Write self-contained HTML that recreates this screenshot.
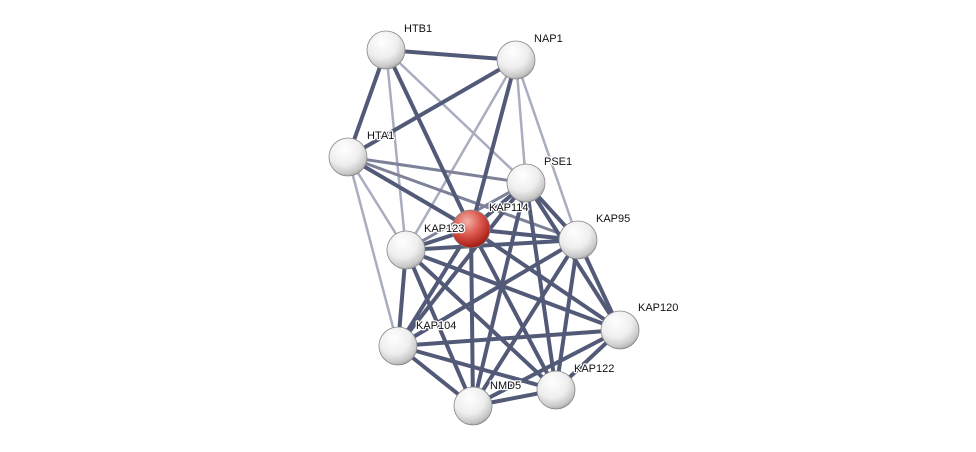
<!DOCTYPE html>
<html><head><meta charset="utf-8"><style>
html,body{margin:0;padding:0;background:#fff;width:976px;height:452px;overflow:hidden}
svg text{font-family:"Liberation Sans",sans-serif;font-size:11px;fill:#111;stroke:#fff;stroke-width:2.5px;paint-order:stroke;stroke-linejoin:round}
</style></head><body>
<svg width="976" height="452" viewBox="0 0 976 452">
<defs>
<radialGradient id="w" cx="0.4" cy="0.3" r="0.75">
<stop offset="0" stop-color="#ffffff"/><stop offset="0.55" stop-color="#eeeeee"/><stop offset="0.85" stop-color="#c8c8c8"/><stop offset="1" stop-color="#9a9a9a"/></radialGradient>
<radialGradient id="r" cx="0.4" cy="0.3" r="0.75">
<stop offset="0" stop-color="#f4b0a8"/><stop offset="0.5" stop-color="#d9544a"/><stop offset="0.85" stop-color="#b0271e"/><stop offset="1" stop-color="#7a1510"/></radialGradient>
</defs>
<g stroke-linecap="round">
<g stroke="#a9adc0" stroke-width="2.5">
<line x1="386" y1="50" x2="406" y2="250"/>
<line x1="386" y1="50" x2="526" y2="183"/>
<line x1="516" y1="60" x2="526" y2="183"/>
<line x1="516" y1="60" x2="578" y2="240"/>
<line x1="516" y1="60" x2="406" y2="250"/>
<line x1="348" y1="157" x2="406" y2="250"/>
<line x1="348" y1="157" x2="398" y2="346"/>
</g>
<g stroke="#7d8299" stroke-width="3">
<line x1="348" y1="157" x2="526" y2="183"/>
<line x1="348" y1="157" x2="578" y2="240"/>
<line x1="526" y1="183" x2="406" y2="250"/>
</g>
<g stroke="#525a78" stroke-width="4">
<line x1="386" y1="50" x2="516" y2="60"/>
<line x1="386" y1="50" x2="348" y2="157"/>
<line x1="386" y1="50" x2="471" y2="229"/>
<line x1="516" y1="60" x2="348" y2="157"/>
<line x1="516" y1="60" x2="471" y2="229"/>
<line x1="348" y1="157" x2="471" y2="229"/>
<line x1="526" y1="183" x2="471" y2="229"/>
<line x1="526" y1="183" x2="578" y2="240"/>
<line x1="526" y1="183" x2="620" y2="330"/>
<line x1="526" y1="183" x2="398" y2="346"/>
<line x1="526" y1="183" x2="473" y2="406"/>
<line x1="526" y1="183" x2="556" y2="390"/>
<line x1="471" y1="229" x2="406" y2="250"/>
<line x1="471" y1="229" x2="578" y2="240"/>
<line x1="471" y1="229" x2="398" y2="346"/>
<line x1="471" y1="229" x2="473" y2="406"/>
<line x1="471" y1="229" x2="556" y2="390"/>
<line x1="471" y1="229" x2="620" y2="330"/>
<line x1="406" y1="250" x2="578" y2="240"/>
<line x1="406" y1="250" x2="398" y2="346"/>
<line x1="406" y1="250" x2="473" y2="406"/>
<line x1="406" y1="250" x2="556" y2="390"/>
<line x1="406" y1="250" x2="620" y2="330"/>
<line x1="578" y1="240" x2="620" y2="330"/>
<line x1="578" y1="240" x2="556" y2="390"/>
<line x1="578" y1="240" x2="473" y2="406"/>
<line x1="578" y1="240" x2="398" y2="346"/>
<line x1="620" y1="330" x2="398" y2="346"/>
<line x1="620" y1="330" x2="473" y2="406"/>
<line x1="620" y1="330" x2="556" y2="390"/>
<line x1="398" y1="346" x2="473" y2="406"/>
<line x1="398" y1="346" x2="556" y2="390"/>
<line x1="473" y1="406" x2="556" y2="390"/>
</g>
</g>
<g stroke="#888" stroke-width="0.8">
<circle cx="386" cy="50" r="19" fill="url(#w)"/>
<circle cx="516" cy="60" r="19" fill="url(#w)"/>
<circle cx="348" cy="157" r="19" fill="url(#w)"/>
<circle cx="526" cy="183" r="19" fill="url(#w)"/>
<circle cx="406" cy="250" r="19" fill="url(#w)"/>
<circle cx="578" cy="240" r="19" fill="url(#w)"/>
<circle cx="620" cy="330" r="19" fill="url(#w)"/>
<circle cx="398" cy="346" r="19" fill="url(#w)"/>
<circle cx="473" cy="406" r="19" fill="url(#w)"/>
<circle cx="556" cy="390" r="19" fill="url(#w)"/>
<circle cx="471" cy="229" r="19" fill="url(#r)"/>
</g>
<text x="404" y="32">HTB1</text>
<text x="534" y="42">NAP1</text>
<text x="367" y="139">HTA1</text>
<text x="544" y="165">PSE1</text>
<text x="489" y="211">KAP114</text>
<text x="424" y="232">KAP123</text>
<text x="596" y="222">KAP95</text>
<text x="638" y="311">KAP120</text>
<text x="416" y="329">KAP104</text>
<text x="490" y="389">NMD5</text>
<text x="574" y="372">KAP122</text>
</svg>
</body></html>
